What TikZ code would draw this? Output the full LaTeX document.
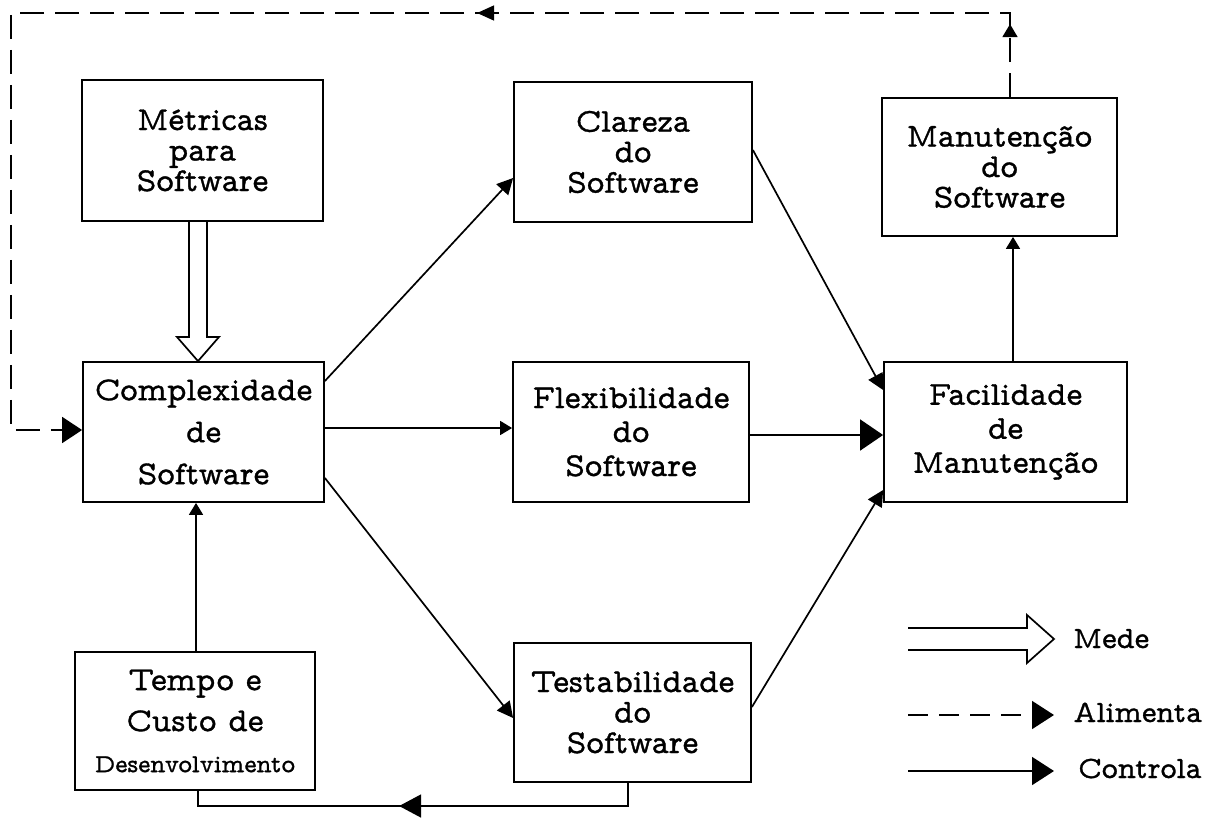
\documentclass[tikz,border=0pt]{standalone}
\usepackage{fontspec}
\usetikzlibrary{arrows.meta,calc,decorations.markings}
\newfontfamily\lblfont{lmmonoprop10-regular.otf}[FakeBold=1.0]
\newcommand{\tight}{\fontsize{33.5}{30.5}\selectfont}
\newcommand{\mids}{\fontsize{33.5}{34}\selectfont}
\newcommand{\loose}{\fontsize{33.5}{42}\selectfont}
\tikzset{
  box/.style={draw, line width=1.8pt, align=center, inner sep=0pt, font=\lblfont\tight},
  ln/.style={line width=1.7pt},
  dsh/.style={line width=1.7pt, dash pattern=on 24pt off 11pt},
  tipbig/.style={-{Triangle[length=23pt,width=31pt]}},
  tipmid/.style={-{Triangle[length=16pt,width=16pt]}},
  tipsmall/.style={-{Triangle[length=12pt,width=14pt]}},
  lgtip/.style={-{Triangle[length=22pt,width=28pt]}},
  lgtext/.style={font=\lblfont\fontsize{31}{31}\selectfont, inner sep=0pt, anchor=base west}
}
\begin{document}
\begin{tikzpicture}[x=1pt,y=-1pt]
\useasboundingbox (0,0) rectangle (1220,817);

% boxes
\node[box, minimum width=241pt, minimum height=141pt] (met) at (202.5,150.5) {Métricas\\para\\Software};
\node[box, minimum width=238pt, minimum height=140pt] (cla) at (633,152) {Clareza\\do\\Software};
\node[box, minimum width=235pt, minimum height=138pt] (man) at (999.5,167) {Manutenção\\do\\Software};
\node[box, minimum width=241pt, minimum height=140pt, font=\lblfont\loose] (com) at (203.5,432) {Complexidade\\de\\Software};
\node[box, minimum width=236pt, minimum height=140pt, font=\lblfont\mids] (fle) at (631,432) {Flexibilidade\\do\\Software};
\node[box, minimum width=243pt, minimum height=140pt, font=\lblfont\mids] (fac) at (1005.5,432) {Facilidade\\de\\Manutenção};
\node[box, minimum width=240pt, minimum height=138pt, font=\lblfont\fontsize{33.5}{41}\selectfont] (tem) at (195,721) {Tempo e\\Custo de\\{\fontsize{26}{30}\selectfont Desenvolvimento}};
\node[box, minimum width=237pt, minimum height=139pt] (tes) at (632.5,712.5) {Testabilidade\\do\\Software};

% hollow "measures" arrow
\draw[ln, line join=miter]
  (met.south -| 189,0) -- (189,337) -- (177,337) -- (com.north -| 198,0)
  -- (219,337) -- (207,337) -- (met.south -| 207,0);

% control connectors
\draw[ln, tipmid] (com.east |- 0,381) -- (cla.west |- 0,178);
\draw[ln, tipsmall] (com.east |- 0,428) -- (fle.west |- 0,428);
\draw[ln, tipmid] (com.east |- 0,478) -- (tes.west |- 0,718);
\draw[ln, tipmid] (cla.east |- 0,150) -- (fac.west |- 0,390);
\draw[ln, tipbig] (fle.east |- 0,435) -- (fac.west |- 0,435);
\draw[ln, tipmid] (tes.east |- 0,707) -- (fac.west |- 0,490);
\draw[ln, tipsmall] (fac.north -| 1013,0) -- (man.south -| 1013,0);
\draw[ln, tipsmall] (tem.north -| 196,0) -- (com.south -| 196,0);

% loop from testability back to time and cost
\coordinate (b1) at (628,806);
\coordinate (b2) at (198,806);
\draw[ln, postaction={decorate}, decoration={markings,
    mark=at position 252pt with {\arrow{Triangle[length=22pt,width=23pt]}}}]
  (tes.south -| b1) -- (b1) -- (b2) -- (tem.south -| b2);

% dashed feed loop around the top
\coordinate (d1) at (1010,13);
\coordinate (d2) at (11,13);
\coordinate (d3) at (11,430);
\draw[dsh, postaction={decorate}, decoration={markings,
    mark=at position 73pt with {\arrow{Triangle[length=13pt,width=15pt]}},
    mark=at position 617pt with {\arrow{Triangle[length=17pt,width=15pt]}}},
    -{Triangle[length=20pt,width=26pt]}]
  (man.north -| d1) -- (d1) -- (d2) -- (d3) -- (com.west |- d3);

% legend
\node[lgtext] (mede) at (1073,648) {Mede};
\node[lgtext] (alim) at (1073,722) {Alimenta};
\node[lgtext] (ctrl) at (1078,778) {Controla};
\coordinate (m0) at (908,639);
\coordinate (a0) at (908,715);
\coordinate (a1) at (1054,715);
\coordinate (c0) at (908,771);
\coordinate (c1) at (1054,771);
\draw[ln, line join=miter] ($(m0)+(0,-11)$) -- ($(m0)+(119,-11)$) -- ($(m0)+(119,-24)$)
  -- ($(m0)+(146,0)$) -- ($(m0)+(119,24)$) -- ($(m0)+(119,11)$) -- ($(m0)+(0,11)$);
\draw[dsh, dash pattern=on 20pt off 11pt, lgtip] (a0) -- (a1);
\draw[ln, lgtip] (c0) -- (c1);
\end{tikzpicture}
\end{document}
